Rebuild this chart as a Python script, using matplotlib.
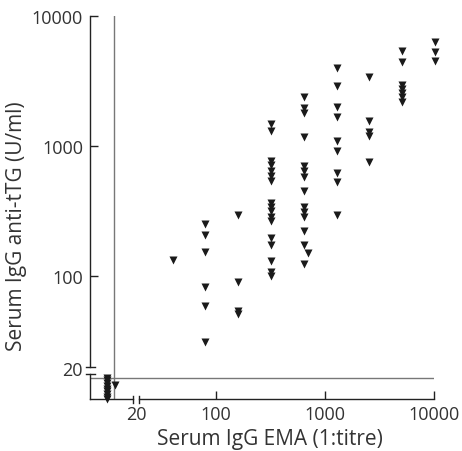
import numpy as np
import matplotlib
matplotlib.use('Agg')
from matplotlib import pyplot as plt

# EMA titre (1:x) and anti-tTG (U/ml)
titre_cols = [40, 80, 160, 320, 640, 1280, 2560, 5120, 10240]
ttg_cols = [
    [133],
    [251, 207, 153, 82, 59, 31],
    [294, 90, 54, 51],
    [1476, 1303, 767, 714, 642, 587, 538, 365, 340, 316, 284, 265, 196, 173, 130, 107, 100],
    [2383, 1959, 1794, 1172, 701, 642, 578, 451, 340, 311, 284, 222, 173, 124],
    [3981, 2896, 1995, 1672, 1093, 916, 620, 528, 294],
    [3397, 1557, 1282, 1194, 754],
    [5380, 4430, 2946, 2742, 2558, 2383, 2179],
    [6310, 5284, 4508],
]
# one off-column point
extra_titre = [700]
extra_ttg = [150]

# EMA negative / tTG undetectable group
neg_titre = [10, 10, 10, 10, 10, 10, 10, 10, 10, 11.8]
neg_ttg = [16.5, 15.8, 15.0, 14.3, 13.6, 13.0, 12.4, 11.8, 11.3, 14.5]

# cut-off lines
ema_cutoff = 11.6
ttg_cutoff = 16.3

xticks = [100, 1000, 10000]
yticks = [100, 1000, 10000]

ema = []
ttg = []
for t, vals in zip(titre_cols, ttg_cols):
    ema += [t] * len(vals)
    ttg += vals
ema += extra_titre + neg_titre
ttg += extra_ttg + neg_ttg

plt.rcParams['font.family'] = ['Open Sans', 'DejaVu Sans']
txt = '#333333'

W, H = 462, 452
fig = plt.figure(figsize=(W / 100, H / 100), dpi=100)
ax = fig.add_axes([90 / W, 1 - 400 / H, (434 - 90) / W, (400 - 17) / H])
ax.set_xscale('log')
ax.set_yscale('log')
ax.set_xlim(10 ** 0.844, 10 ** 4)
ax.set_ylim(10 ** 1.054, 10 ** 4)

ax.plot(ema, ttg, 'v', color='#1a1a1a', ms=6.3, mec='none', clip_on=False, zorder=3)

ax.axvline(ema_cutoff, color='#777777', lw=1)
ax.axhline(ttg_cutoff, color='#777777', lw=1)

# axes with breaks
for s in ax.spines.values():
    s.set_visible(False)
k = dict(color='#222222', lw=1, clip_on=False, transform=ax.transAxes)
yb, yg = (400 - 371.5) / 383, 3.5 / 383
ax.plot([0, 0], [1, yb + yg], **k)
ax.plot([0, 0], [yb - yg, 0], **k)
ax.plot([-4 / 344, 5 / 344], [yb + yg, yb + yg], **k)
ax.plot([-4 / 344, 5 / 344], [yb - yg, yb - yg], **k)
xb, xg = (136 - 90) / 344, 3.3 / 344
ax.plot([0, xb - xg], [0, 0], **k)
ax.plot([xb + xg, 1], [0, 0], **k)
ax.plot([xb - xg, xb - xg], [-3.5 / 383, 3.5 / 383], **k)
ax.plot([xb + xg, xb + xg], [-3.5 / 383, 3.5 / 383], **k)

ax.set_xticks(xticks)
ax.set_yticks(yticks)
ax.set_xticklabels([str(v) for v in xticks])
ax.set_yticklabels([str(v) for v in yticks])
ax.minorticks_off()
ax.tick_params(direction='in', length=6, width=1, color='#222222',
               labelsize=13, labelcolor=txt)
ax.tick_params(axis='y', pad=5)
ax.tick_params(axis='x', pad=4)
ax.text(-7 / 344, yb, '20', transform=ax.transAxes, ha='right', va='center',
        fontsize=13, color=txt)
ax.text(xb, -6 / 383, '20', transform=ax.transAxes, ha='center', va='top',
        fontsize=13, color=txt)

fig.text(17 / W, 1 - 226 / H, 'Serum IgG anti-tTG (U/ml)', rotation=90,
         ha='center', va='center', fontsize=15, color=txt)
fig.text(270 / W, 1 - 440 / H, 'Serum IgG EMA (1:titre)',
         ha='center', va='center', fontsize=15, color=txt)

fig.savefig('out.png', dpi=100)
